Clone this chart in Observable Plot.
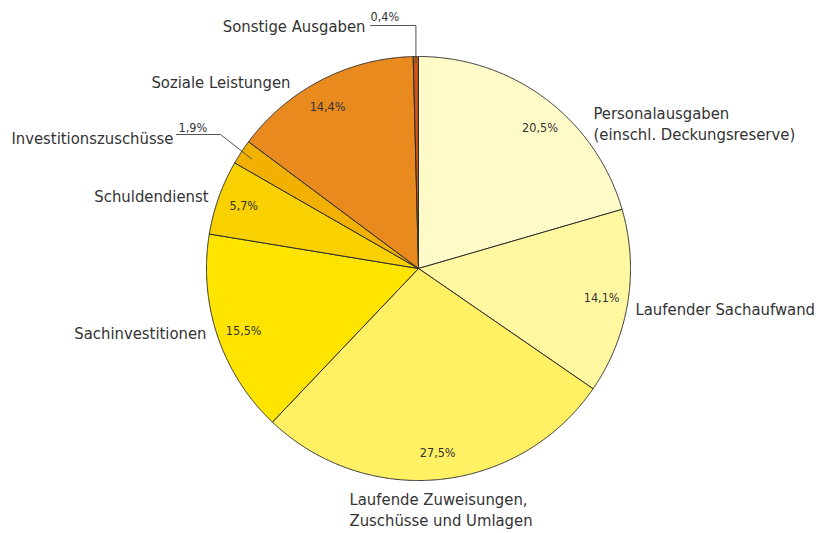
<!DOCTYPE html>
<html><head><meta charset="utf-8">
<script src="https://cdn.jsdelivr.net/npm/d3@7"></script>
<script src="https://cdn.jsdelivr.net/npm/@observablehq/plot@0.6"></script>
<style>body{margin:0;background:#fff}</style>
</head><body><div id="chart"></div>
<script>
// ---- data ----
const categories = ["Personalausgaben", "Laufender Sachaufwand", "Laufende Zuweisungen", "Sachinvestitionen", "Schuldendienst", "Investitionszuschüsse", "Soziale Leistungen", "Sonstige Ausgaben"];
const labelTexts = ["Personalausgaben\n(einschl. Deckungsreserve)", "Laufender Sachaufwand", "Laufende Zuweisungen,\nZuschüsse und Umlagen", "Sachinvestitionen", "Schuldendienst", "Investitionszuschüsse", "Soziale Leistungen", "Sonstige Ausgaben"];
const shares = [20.5, 14.1, 27.5, 15.5, 5.7, 1.9, 14.4, 0.4];
const shareLabels = ["20,5%", "14,1%", "27,5%", "15,5%", "5,7%", "1,9%", "14,4%", "0,4%"];
const colors = ["#fffbc9", "#fff8a0", "#fff064", "#ffe400", "#f9d000", "#f2b000", "#e98a1e", "#c4541a"];

// ---- layout (pie-relative units, radius 212) ----
const R = 212;
const catPos = [
  {dx: 175, dy: -146, anchor: "start"},
  {dx: 217, dy: 39.3, anchor: "start"},
  {dx: -69, dy: 240, anchor: "start"},
  {dx: -212, dy: 63.9, anchor: "end"},
  {dx: -210, dy: -73.4, anchor: "end"},
  {dx: -245, dy: -131.7, anchor: "end"},
  {dx: -128, dy: -187.4, anchor: "end"},
  {dx: -53, dy: -243.4, anchor: "end"}
];
const pctInside = [true, true, true, true, true, false, true, false];
const pctNudgeDeg = [4, 0, 0, -1, 0, 0, -2, 0];
const pctOutsidePos = {5: {dx: -240, dy: -140.3}, 7: {dx: -48, dy: -252}};
const leaders = [
  {i: 5, start: [-242, -134], elbow: [-198, -134], r: 0.94},
  {i: 7, start: [-48, -243], elbow: [null, -243], r: 0.97}
];

// ---- geometry from data ----
const total = d3.sum(shares);
let acc = 0;
const slices = shares.map((v, i) => {
  const a0 = acc / total * 2 * Math.PI;
  acc += v;
  const a1 = acc / total * 2 * Math.PI;
  return {i, name: categories[i], a0, a1, mid: (a0 + a1) / 2};
});
const pt = (a, r) => ({x: r * Math.sin(a), y: -r * Math.cos(a)});

const poly = [];
for (const s of slices) {
  const n = Math.max(2, Math.ceil((s.a1 - s.a0) / (0.25 * Math.PI / 180)));
  poly.push({name: s.name, x: 0, y: 0});
  for (let k = 0; k <= n; k++) {
    const p = pt(s.a0 + (s.a1 - s.a0) * k / n, R);
    poly.push({name: s.name, ...p});
  }
  poly.push({name: s.name, x: 0, y: 0});
}

const pctData = slices.map(s => {
  if (pctInside[s.i]) {
    const p = pt(s.mid + pctNudgeDeg[s.i] * Math.PI / 180, R * 0.875);
    return {text: shareLabels[s.i], x: p.x, y: p.y, inside: true};
  }
  const o = pctOutsidePos[s.i];
  return {text: shareLabels[s.i], x: o.dx, y: o.dy, inside: false};
});

const catData = slices.map(s => ({text: labelTexts[s.i], x: catPos[s.i].dx, y: catPos[s.i].dy, anchor: catPos[s.i].anchor}));

const leaderData = [];
for (const l of leaders) {
  const end = pt(slices[l.i].mid, R * l.r);
  const ex = l.elbow[0] == null ? end.x : l.elbow[0];
  leaderData.push({id: l.i, x: l.start[0], y: l.start[1]});
  leaderData.push({id: l.i, x: ex, y: l.elbow[1]});
  leaderData.push({id: l.i, x: end.x, y: end.y});
}

const font = "'Liberation Sans Narrow','Arial Narrow','DejaVu Sans Condensed',sans-serif";
const textColor = "#333";

const chart = Plot.plot({
  width: 817, height: 533,
  margin: 0,
  x: {domain: [-418, 399], range: [0, 817], axis: null},
  y: {domain: [-268, 265], range: [0, 533], axis: null},
  color: {domain: categories, range: colors},
  style: {fontFamily: font, background: "#fff"},
  marks: [
    Plot.line(poly, {x: "x", y: "y", z: "name", fill: "name", stroke: "#2e2e2e", strokeWidth: 1, strokeLinejoin: "round"}),
    Plot.line(leaderData, {x: "x", y: "y", z: "id", stroke: "#555", strokeWidth: 1}),
    Plot.text(pctData.filter(d => d.inside), {x: "x", y: "y", text: "text", fontSize: 12.5, fill: textColor, fontFamily: font}),
    Plot.text(pctData.filter(d => !d.inside), {x: "x", y: "y", text: "text", fontSize: 12.5, fill: textColor, textAnchor: "start", fontFamily: font}),
    Plot.text(catData.filter(d => d.anchor === "start"), {x: "x", y: "y", text: "text", fontSize: 16.5, lineHeight: 1.3, fill: textColor, textAnchor: "start", fontFamily: font}),
    Plot.text(catData.filter(d => d.anchor === "end"), {x: "x", y: "y", text: "text", fontSize: 16.5, lineHeight: 1.3, fill: textColor, textAnchor: "end", fontFamily: font})
  ]
});
document.getElementById("chart").appendChild(chart);
</script>
</body></html>
